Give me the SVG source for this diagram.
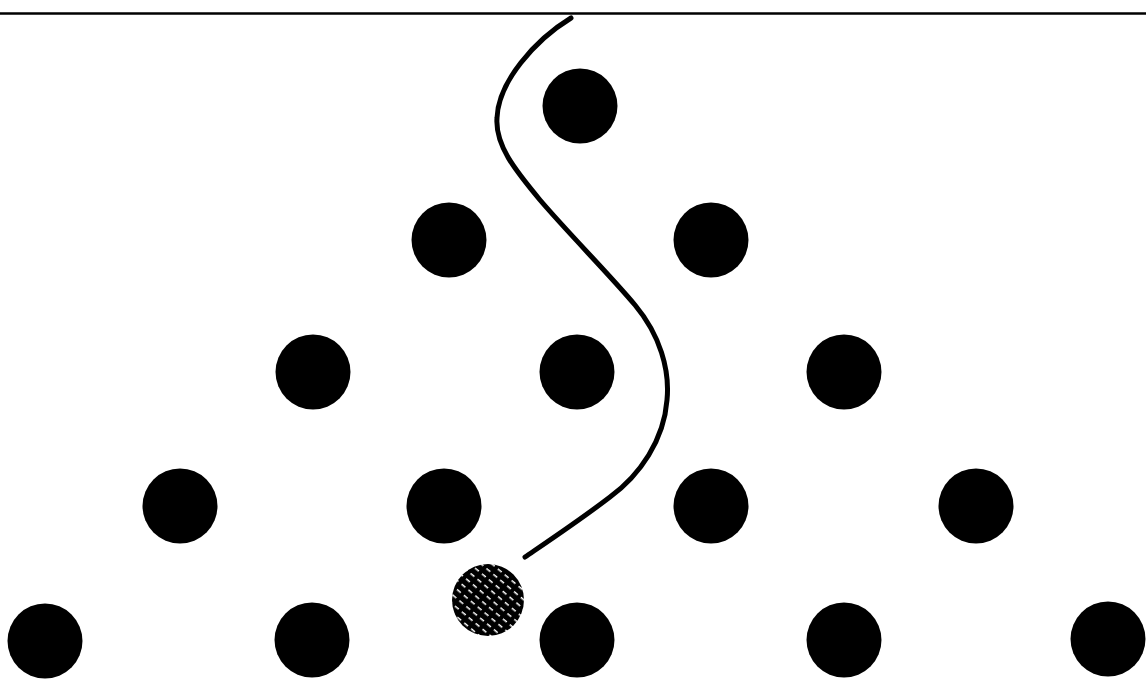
<svg xmlns="http://www.w3.org/2000/svg" width="1146" height="682" viewBox="0 0 1146 682">
<style>
.dot{fill:#000}
.line{stroke:#000;fill:none}
</style>
<defs>
<pattern id="hatch" patternUnits="userSpaceOnUse" width="9" height="7" patternTransform="rotate(40)">
<rect width="9" height="7" fill="#000"/>
<rect x="0" y="3" width="5" height="1.5" fill="#fff"/>
</pattern>
</defs>
<rect width="1146" height="682" fill="#fff"/>
<line class="line" x1="0" y1="13.5" x2="1146" y2="13.5" stroke-width="2.5"/>
<g id="connectors">
<path class="line" stroke-width="5" stroke-linecap="round" d="M571,18 C535,40 498,82 497,118 C495,145 515,170 540,200 C570,235 610,275 635,305 C660,335 670,370 667,400 C664,440 640,475 610,497 C580,520 550,540 525,557"/>
</g>
<g id="row1"><circle class="dot" cx="580" cy="106" r="37.5"/></g>
<g id="row2">
<circle class="dot" cx="449" cy="240" r="37.5"/>
<circle class="dot" cx="711" cy="240" r="37.5"/>
</g>
<g id="row3">
<circle class="dot" cx="313" cy="372" r="37.5"/>
<circle class="dot" cx="577" cy="372" r="37.5"/>
<circle class="dot" cx="844" cy="372" r="37.5"/>
</g>
<g id="row4">
<circle class="dot" cx="180" cy="506" r="37.5"/>
<circle class="dot" cx="444" cy="506" r="37.5"/>
<circle class="dot" cx="711" cy="506" r="37.5"/>
<circle class="dot" cx="976" cy="506" r="37.5"/>
</g>
<g id="row5">
<circle class="dot" cx="45" cy="641" r="37.5"/>
<circle class="dot" cx="312" cy="640" r="37.5"/>
<circle class="dot" cx="577" cy="640" r="37.5"/>
<circle class="dot" cx="844" cy="640" r="37.5"/>
<circle class="dot" cx="1108" cy="639" r="37.5"/>
</g>
<g id="ball"><circle cx="488" cy="600" r="36" fill="url(#hatch)"/></g>
</svg>
